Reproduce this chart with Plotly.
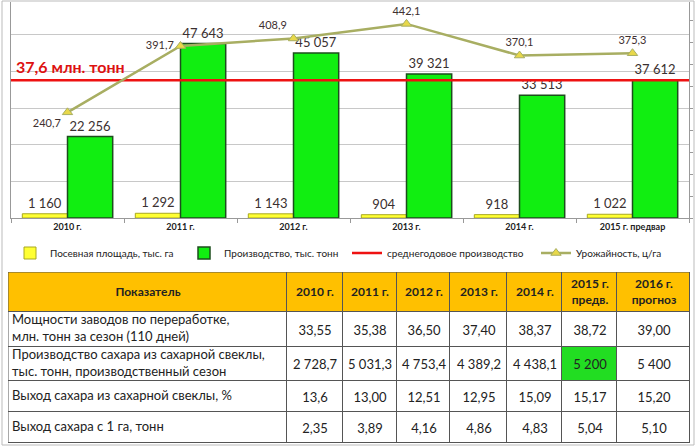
import plotly.graph_objects as go

years = ["2010 г.", "2011 г.", "2012 г.", "2013 г.", "2014 г.", "2015 г. предвар"]
area = [1160, 1292, 1143, 904, 918, 1022]
production = [22256, 47643, 45057, 39321, 33513, 37612]
yield_c = [240.7, 391.7, 408.9, 442.1, 370.1, 375.3]
avg_prod = 37600
avg_label = "37,6 млн. тонн"

tbl_header = ["Показатель", "2010 г.", "2011 г.", "2012 г.", "2013 г.", "2014 г.",
              "2015 г.<br>предв.", "2016 г.<br>прогноз"]
tbl_names = ["Мощности заводов по переработке,<br>млн. тонн за сезон (110 дней)",
             "Производство сахара из сахарной свеклы,<br>тыс. тонн, производственный сезон",
             "Выход сахара из сахарной свеклы, %",
             "Выход сахара с 1 га, тонн"]
col_2010 = ["33,55", "2 728,7", "13,6", "2,35"]
col_2011 = ["35,38", "5 031,3", "13,00", "3,89"]
col_2012 = ["36,50", "4 753,4", "12,51", "4,16"]
col_2013 = ["37,40", "4 389,2", "12,95", "4,86"]
col_2014 = ["38,37", "4 438,1", "15,09", "4,83"]
col_2015 = ["38,72", "5 200", "15,17", "5,04"]
col_2016 = ["39,00", "5 400", "15,20", "5,10"]
highlight = (1, 5)  # row "Производство сахара", column 2015

# table geometry (pixel units on the table's own axes)
col_widths = [279, 56, 54, 53, 57, 55, 55, 73]
header_h = 40
row_heights = [35, 34, 31, 31]

W, H = 697, 446
FONT = "Lato"
xs = list(range(len(years)))

fig = go.Figure()
fig.add_trace(go.Bar(
    x=xs, y=area, name="Посевная площадь, тыс. га", legend="legend",
    marker=dict(color="#FFFF33", line=dict(color="#A8A820", width=1)),
    texttemplate="%{y:,}", textposition="outside",
    textfont=dict(size=13, color="#3a3030", family=FONT), cliponaxis=False, hoverinfo="skip",
))
fig.add_trace(go.Bar(
    x=xs, y=production, name="Производство, тыс. тонн", legend="legend2",
    marker=dict(color="#11EE11", line=dict(color="#1d4d1d", width=1.5)),
    texttemplate="%{y:,}", textposition="outside",
    textfont=dict(size=13, color="#3a3030", family=FONT), cliponaxis=False, hoverinfo="skip",
))
fig.add_trace(go.Scatter(
    x=[-0.5, len(years) - 0.5], y=[avg_prod, avg_prod], mode="lines", legend="legend3",
    name="среднегодовое производство", line=dict(color="#EE1111", width=2.5), hoverinfo="skip",
))
fig.add_trace(go.Scatter(
    x=xs, y=yield_c, name="Урожайность, ц/га", yaxis="y2", legend="legend4",
    mode="lines+markers+text",
    line=dict(color="#A8AE62", width=2.5),
    marker=dict(symbol="triangle-up", size=9, color="#E8D84A",
                line=dict(color="#A8AE62", width=1)),
    texttemplate="%{y:.1f}",
    textposition=["bottom left", "middle left", "top left", "top center", "top center", "top center"],
    textfont=dict(size=11, color="#403030", family=FONT), cliponaxis=False, hoverinfo="skip",
))

fig.add_annotation(x=-0.5, y=avg_prod, xref="x", yref="y", text=f"<b>{avg_label}</b>",
                   showarrow=False, xanchor="left", yanchor="bottom", xshift=3, yshift=2,
                   font=dict(size=16, color="#DD1111", family=FONT))

# ---------- table built on its own axes ----------
x_edges = [0]
for w in col_widths:
    x_edges.append(x_edges[-1] + w)
y_edges = [header_h]
for h in row_heights:
    y_edges.append(y_edges[-1] + h)
body_cols = [col_2010, col_2011, col_2012, col_2013, col_2014, col_2015, col_2016]
nb = len(tbl_names)
ncol = len(col_widths)

z_head = [[1] * ncol]
z_body = [[0] * ncol for _ in range(nb)]
z_body[highlight[0]][highlight[1] + 1] = 2
txt_body = [[""] + [c[r].replace(" ", "\u00a0") for c in body_cols] for r in range(nb)]
cscale = [[0, "#FFFFFF"], [0.33, "#FFFFFF"], [0.34, "#FFC000"], [0.66, "#FFC000"],
          [0.67, "#22DD22"], [1, "#22DD22"]]

def head_txt(h):
    parts = h.split("<br>")
    return "<b>" + "<br>".join(p.replace(" ", "\u00a0") for p in parts) + "</b>"

fig.add_trace(go.Heatmap(
    x=x_edges, y=[0, header_h], z=z_head, zmin=0, zmax=2, colorscale=cscale, showscale=False,
    text=[[head_txt(h) for h in tbl_header]],
    texttemplate="%{text}", textfont=dict(size=12, color="#222222", family=FONT),
    xgap=1, ygap=1, xaxis="x3", yaxis="y3", hoverinfo="skip",
))
fig.add_trace(go.Heatmap(
    x=x_edges, y=y_edges, z=z_body, zmin=0, zmax=2, colorscale=cscale, showscale=False,
    text=txt_body, texttemplate="%{text}", textfont=dict(size=13, color="#222222", family=FONT),
    xgap=1, ygap=1, xaxis="x3", yaxis="y3", hoverinfo="skip",
))
fig.add_trace(go.Scatter(
    x=[4] * nb, y=[(y_edges[i] + y_edges[i + 1]) / 2 for i in range(nb)],
    text=tbl_names, mode="text", textposition="middle right",
    textfont=dict(size=13, color="#222222", family=FONT),
    xaxis="x3", yaxis="y3", showlegend=False, hoverinfo="skip", cliponaxis=False,
))

tbl_w, tbl_h = x_edges[-1], y_edges[-1]

fig.update_layout(
    width=W, height=H, margin=dict(l=0, r=0, t=0, b=0),
    paper_bgcolor="white", plot_bgcolor="white",
    separators=", ",
    barmode="group", bargap=0.2, bargroupgap=0,
    font=dict(family=FONT, size=11, color="#222222"),
    xaxis=dict(domain=[11 / W, 689 / W], range=[-0.5, len(years) - 0.5],
               tickvals=xs, ticktext=[f"<b>{y}</b>" for y in years],
               tickfont=dict(size=9, color="#222222"), ticks="",
               showline=True, linecolor="#999999", linewidth=1, showgrid=False, zeroline=False,
               minor=dict(tickvals=[i - 0.5 for i in range(len(years) + 1)], ticks="outside",
                          ticklen=4, tickcolor="#999999")),
    yaxis=dict(domain=[1 - 218 / H, 1 - 2 / H], range=[0, 59000], dtick=10000,
               showticklabels=False, showgrid=True, gridcolor="#C8C8C8",
               showline=True, linecolor="#999999", zeroline=False),
    yaxis2=dict(overlaying="y", side="right", range=[0, 492], dtick=50,
                showticklabels=False, showgrid=False, showline=True, linecolor="#999999",
                ticks="outside", ticklen=3, tickcolor="#999999", zeroline=False),
    xaxis3=dict(domain=[8 / W, 690 / W], range=[0, tbl_w], visible=False, fixedrange=True),
    yaxis3=dict(domain=[1 - 443 / H, 1 - 272 / H], range=[tbl_h, 0], visible=False, fixedrange=True),
    shapes=[
        dict(type="rect", xref="paper", yref="paper", x0=2 / W, x1=694 / W, y0=1 / H, y1=1 - 1 / H,
             line=dict(color="#BBBBBB", width=1)),
        dict(type="rect", xref="x3", yref="y3", x0=0, x1=tbl_w, y0=0, y1=tbl_h,
             fillcolor="#555555", line=dict(width=0), layer="below"),
        dict(type="rect", xref="x3", yref="y3", x0=0, x1=tbl_w, y0=0, y1=tbl_h,
             line=dict(color="#555555", width=1), layer="above"),
    ],
)

leg_common = dict(orientation="h", y=1 - 253 / H, yanchor="middle", xanchor="left",
                  font=dict(size=10, color="#222222", family=FONT), itemwidth=30,
                  bgcolor="rgba(0,0,0,0)")
fig.update_layout(
    legend=dict(x=10 / W, **leg_common),
    legend2=dict(x=184 / W, **leg_common),
    legend3=dict(x=347 / W, **leg_common),
    legend4=dict(x=536 / W, **leg_common),
)

fig.write_html("out.html", config={"displayModeBar": False},
               post_script="document.body.style.margin='0';document.body.style.overflow='hidden';")
